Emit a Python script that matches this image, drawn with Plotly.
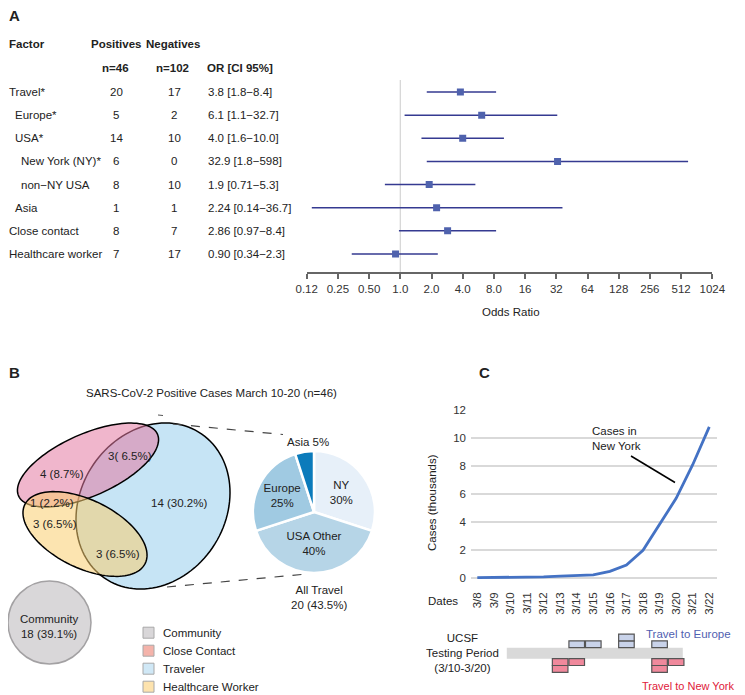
import numpy as np
import plotly.graph_objects as go

W, H = 745, 695
OFF = 8  # page body offset of the plot div, in screen pixels
FONT = "Liberation Sans, Arial, sans-serif"
FS = 11.5

# ---------------- data: panel A ----------------
factors = ["Travel*", "Europe*", "USA*", "New York (NY)*", "non\u2212NY USA", "Asia",
           "Close contact", "Healthcare worker"]
indent = [0, 1, 1, 2, 2, 1, 0, 0]
positives = [20, 5, 14, 6, 8, 1, 8, 7]
negatives = [17, 2, 10, 0, 10, 1, 7, 17]
or_est = [3.8, 6.1, 4.0, 32.9, 1.9, 2.24, 2.86, 0.90]
ci_lo = [1.8, 1.1, 1.6, 1.8, 0.71, 0.14, 0.97, 0.34]
ci_hi = [8.4, 32.7, 10.0, 598, 5.3, 36.7, 8.4, 2.3]
or_text = ["3.8 [1.8\u22128.4]", "6.1 [1.1\u221232.7]", "4.0 [1.6\u221210.0]",
           "32.9 [1.8\u2212598]", "1.9 [0.71\u22125.3]", "2.24 [0.14\u221236.7]",
           "2.86 [0.97\u22128.4]", "0.90 [0.34\u22122.3]"]
or_ticks = [0.125, 0.25, 0.5, 1, 2, 4, 8, 16, 32, 64, 128, 256, 512, 1024]
or_ticktext = ["0.12", "0.25", "0.50", "1.0", "2.0", "4.0", "8.0", "16", "32", "64",
               "128", "256", "512", "1024"]

# ---------------- data: panel B ----------------
travel_labels = ["NY", "USA Other", "Europe", "Asia"]
travel_counts = [6, 8, 5, 1]
travel_colors = ["#e7f0f9", "#b6d5e7", "#a0cae2", "#0b7bbb"]
venn_texts = ["3( 6.5%)", "4 (8.7%)", "14 (30.2%)", "1 (2.2%)", "3 (6.5%)", "3 (6.5%)"]
community_text = "Community<br>18 (39.1%)"
legend_labels = ["Community", "Close Contact", "Traveler", "Healthcare Worker"]
legend_colors = ["#d9d7d9", "#f4b3aa", "#d0e8f6", "#fde3ae"]

# ---------------- data: panel C ----------------
dates = ["3/8", "3/9", "3/10", "3/11", "3/12", "3/13", "3/14", "3/15", "3/16", "3/17",
         "3/18", "3/19", "3/20", "3/21", "3/22"]
ny_cases_k = [0.05, 0.05, 0.06, 0.08, 0.10, 0.15, 0.20, 0.25, 0.50, 0.95, 2.0, 3.9, 5.7, 8.1, 10.8]
europe_dates = ["3/14", "3/15", "3/17", "3/19"]
europe_counts = [1, 1, 2, 1]
ny_dates = ["3/13", "3/14", "3/19", "3/20"]
ny_counts = [2, 1, 2, 1]


def px(x):
    return (x - OFF) / W


def py(y):
    return 1 - (y - OFF) / H


fig = go.Figure()
shapes = []
ann = []


def text(x, y, s, size=FS, color="#222", xanchor="center", yanchor="middle",
         bold=False, align="center", angle=0, xref="paper", yref="paper", pad=1):
    if bold:
        s = "<b>" + s + "</b>"
    ann.append(dict(x=x, y=y, xref=xref, yref=yref, text=s, showarrow=False,
                    xanchor=xanchor, yanchor=yanchor, align=align, textangle=angle,
                    borderpad=pad,
                    font=dict(family=FONT, size=size, color=color)))


# ================= Panel A: forest plot =================
row_top, row_bot = 80, 272
r0, dr = 92, 23.14
yr_top = (row_top - r0) / dr
yr_bot = (row_bot - r0) / dr

rows = list(range(len(factors)))
fig.add_trace(go.Scatter(
    x=or_est, y=rows, mode="markers", xaxis="x", yaxis="y",
    marker=dict(symbol="square", size=7, color="#4f62ad"),
    error_x=dict(type="data", symmetric=False,
                 array=[h - o for h, o in zip(ci_hi, or_est)],
                 arrayminus=[o - l for o, l in zip(or_est, ci_lo)],
                 width=0, thickness=1.5, color="#353a91"),
    hoverinfo="skip"))

shapes.append(dict(type="line", xref="x", yref="y domain", x0=1, x1=1, y0=0, y1=1,
                   line=dict(color="#d4d4d4", width=1.2), layer="below"))

# table
text(px(8), py(16), "A", size=15, bold=True, xanchor="left", pad=0)
text(px(8), py(44), "Factor", bold=True, xanchor="left", pad=0)
text(px(89), py(44), "Positives", bold=True, xanchor="left")
text(px(144), py(44), "Negatives", bold=True, xanchor="left")
text(px(115), py(68), "n=46", bold=True)
text(px(172), py(68), "n=102", bold=True)
text(px(205), py(68), "OR [CI 95%]", bold=True, xanchor="left")
for i, f in enumerate(factors):
    text(px(8 + 6 * indent[i]), i, f, xanchor="left", yref="y", pad=0)
    text(px(116), i, str(positives[i]), yref="y")
    text(px(174), i, str(negatives[i]), yref="y")
    text(px(206), i, or_text[i], xanchor="left", yref="y")
text(px(511), py(312), "Odds Ratio")

# ================= Panel B =================
text(px(8), py(373), "B", size=15, bold=True, xanchor="left", pad=0)
text(px(211), py(393), "SARS-CoV-2 Positive Cases March 10-20 (n=46)")


def ellipse_path(cx, cy, rx, ry, theta_deg=0.0, shear=0.0, n=120):
    t = np.linspace(0, 2 * np.pi, n, endpoint=False)
    th = np.deg2rad(theta_deg)
    ex = rx * np.cos(t)
    ey = ry * np.sin(t)
    xs = cx + ex * np.cos(th) - ey * np.sin(th) + shear * ey
    ys = cy + ex * np.sin(th) + ey * np.cos(th)
    pts = ["%.5f,%.5f" % (px(a), py(b)) for a, b in zip(xs, ys)]
    return "M" + " L".join(pts) + " Z"


# traveler (blue), close contact (pink), healthcare (yellow)
shapes.append(dict(type="path", xref="paper", yref="paper",
                   path=ellipse_path(153, 506, 76, 83, 0, -0.15),
                   fillcolor="#c6e4f5", line=dict(color="black", width=1.5)))
shapes.append(dict(type="path", xref="paper", yref="paper",
                   path=ellipse_path(88, 465, 76, 31, -24),
                   fillcolor="rgba(228,122,162,0.55)", line=dict(color="black", width=1.5)))
shapes.append(dict(type="path", xref="paper", yref="paper",
                   path=ellipse_path(85, 534, 67, 34, 26),
                   fillcolor="rgba(250,206,111,0.55)", line=dict(color="black", width=1.5)))

venn_pos = [(130, 456), (62, 474), (179, 503), (52, 503), (55, 524), (118, 554)]
for s, (x, y) in zip(venn_texts, venn_pos):
    text(px(x), py(y), s)

# community circle
shapes.append(dict(type="circle", xref="paper", yref="paper",
                   x0=px(8), x1=px(91), y0=py(664), y1=py(581),
                   fillcolor="#d9d7d9", line=dict(color="#a3a1a3", width=1.5)))
text(px(49), py(626), community_text)

# dashed connectors
shapes.append(dict(type="line", xref="paper", yref="paper", x0=px(173), y0=py(424),
                   x1=px(283), y1=py(434.5), line=dict(color="#444", width=1.2, dash="dash")))
shapes.append(dict(type="line", xref="paper", yref="paper", x0=px(158), y0=py(415),
                   x1=px(163), y1=py(415.5), line=dict(color="#555", width=1)))
shapes.append(dict(type="line", xref="paper", yref="paper", x0=px(167), y0=py(587),
                   x1=px(307), y1=py(574), line=dict(color="#444", width=1.2, dash="dash")))

# pie of travel
total = sum(travel_counts)
fig.add_trace(go.Pie(
    labels=travel_labels, values=travel_counts, sort=False, direction="clockwise",
    rotation=0, marker=dict(colors=travel_colors, line=dict(color="white", width=2.5)),
    texttemplate=["%{label}<br>%{percent:.0%}"] * 3 + [""],
    textposition="inside", insidetextorientation="horizontal",
    insidetextfont=dict(family=FONT, size=FS, color="#222"),
    domain=dict(x=[px(253), px(375)], y=[py(573), py(451)]),
    hoverinfo="skip", showlegend=False))
text(px(308), py(442), "%s %d%%" % (travel_labels[3], round(100 * travel_counts[3] / total)))
text(px(319), py(597), "All Travel<br>%d (43.5%%)" % total)

# legend B
for i, (lab, col) in enumerate(zip(legend_labels, legend_colors)):
    yc = 632.7 + 18 * i
    shapes.append(dict(type="rect", xref="paper", yref="paper",
                       x0=px(143), x1=px(154), y0=py(yc + 5.5), y1=py(yc - 5.5),
                       fillcolor=col, line=dict(color="#a8a8a8", width=1)))
    text(px(161), py(yc), lab, xanchor="left")

# ================= Panel C =================
text(px(478), py(373), "C", size=15, bold=True, xanchor="left", pad=0)
xi = list(range(len(dates)))
fig.add_trace(go.Scatter(x=xi, y=ny_cases_k, mode="lines", xaxis="x2", yaxis="y2",
                         line=dict(color="#4472c4", width=2.8), hoverinfo="skip"))
text(px(590), py(438.7), "Cases in<br>New York", xanchor="left", align="left")
shapes.append(dict(type="line", xref="paper", yref="paper", x0=px(631), y0=py(456),
                   x1=px(675), y1=py(482.5), line=dict(color="black", width=1.5)))
text(px(443), py(601), "Dates")
text(px(432), py(503), "Cases (thousands)", angle=-90)

# timeline
didx = {d: i for i, d in enumerate(dates)}
shapes.append(dict(type="rect", xref="x2", yref="paper", x0=1.78, x1=12.4,
                   y0=py(658.7), y1=py(647.7), fillcolor="#d9d9d9", line=dict(width=0),
                   layer="below"))
bh = 6.8
for d, c in zip(europe_dates, europe_counts):
    for k in range(c):
        shapes.append(dict(type="rect", xref="x2", yref="paper",
                           x0=didx[d] - 0.47, x1=didx[d] + 0.47,
                           y0=py(647.7 - k * bh), y1=py(647.7 - (k + 1) * bh),
                           fillcolor="#c9d3ea", line=dict(color="#555", width=1.2)))
for d, c in zip(ny_dates, ny_counts):
    for k in range(c):
        shapes.append(dict(type="rect", xref="x2", yref="paper",
                           x0=didx[d] - 0.47, x1=didx[d] + 0.47,
                           y0=py(658.7 + k * bh), y1=py(658.7 + (k + 1) * bh),
                           fillcolor="#f0899c", line=dict(color="#555", width=1.2)))
text(px(462), py(653), "UCSF<br>Testing Period<br>(3/10-3/20)")
text(px(688), py(633.5), "Travel to Europe", color="#5060b0")
text(px(735), py(686), "Travel to New York", color="#e0203a", size=11, xanchor="right",
     pad=0)

# ---------------- axes ----------------
ax_font = dict(family=FONT, size=FS, color="#333")
y2_base = 589.0
y2_per = (578.3 - 410.0) / 12
fig.update_layout(
    width=W, height=H, margin=dict(l=0, r=0, t=0, b=0, autoexpand=False),
    paper_bgcolor="white", plot_bgcolor="white", showlegend=False,
    xaxis=dict(type="log", domain=[px(306.7), px(712.3)],
               range=[np.log10(0.125), np.log10(1024)],
               tickvals=or_ticks, ticktext=or_ticktext, tickfont=ax_font,
               showgrid=False, zeroline=False, showline=True, linecolor="#666",
               linewidth=2, ticks="outside", ticklen=5, tickwidth=1.5, tickcolor="#666",
               anchor="y", fixedrange=True),
    yaxis=dict(domain=[py(row_bot), py(row_top)], range=[yr_bot, yr_top], visible=False,
               anchor="x", fixedrange=True),
    xaxis2=dict(domain=[px(471), px(717)],
                range=[(471 - 477.3) / 16.57, (717 - 477.3) / 16.57],
                tickvals=xi, ticktext=dates, tickangle=-90, tickfont=ax_font,
                showgrid=False, zeroline=False, showline=False, ticks="",
                anchor="y2", fixedrange=True),
    yaxis2=dict(domain=[py(y2_base), py(409.6)],
                range=[-(y2_base - 578.3) / y2_per, 12.03],
                tickvals=[0, 2, 4, 6, 8, 10, 12], tickfont=ax_font,
                showgrid=True, gridcolor="#d9d9d9", gridwidth=1.5, zeroline=False,
                showline=False, ticks="", ticklabelstandoff=4,
                anchor="x2", fixedrange=True),
    shapes=shapes, annotations=ann,
)

fig.write_html("out.html")
